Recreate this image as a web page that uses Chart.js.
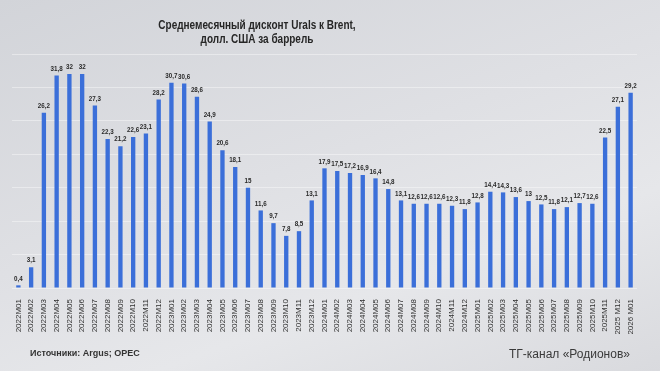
<!DOCTYPE html>
<html>
<head>
<meta charset="utf-8">
<script src="https://cdn.jsdelivr.net/npm/chart.js@4"></script>
<style>
  body { margin: 0; }
  #wrap {
    position: relative; width: 660px; height: 371px; overflow: hidden;
    background: linear-gradient(160deg, #d2d4d9 0%, #dfe0e4 45%, #e6e7ea 70%, #d9dade 100%);
    font-family: 'Liberation Sans', Arial, sans-serif;
  }
  #title {
    position: absolute; left: 57px; top: 18px; width: 400px; white-space: nowrap;
    text-align: center; font-weight: bold; font-size: 13.5px; line-height: 14px; color: #262626;
    transform: scaleX(0.74); transform-origin: 50% 0;
  }
  #src { position: absolute; left: 30px; top: 348px; font-weight: bold; font-size: 9px; color: #333; }
  #tg { position: absolute; left: 509px; top: 347px; font-size: 12px; color: #3a3a3a; }
  canvas { position: absolute; left: 0; top: 0; }
</style>
</head>
<body>
<div id="wrap">
  <canvas id="myChart" width="660" height="371"></canvas>
  <div id="title">Среднемесячный дисконт Urals к Brent,<br>долл. США за баррель</div>
  <div id="src">Источники: Argus; OPEC</div>
  <div id="tg">ТГ-канал «Родионов»</div>
</div>
<script>
// months 2022M01 .. 2026M01
const months = [
  '2022M01','2022M02','2022M03','2022M04','2022M05','2022M06','2022M07','2022M08','2022M09','2022M10','2022M11','2022M12',
  '2023M01','2023M02','2023M03','2023M04','2023M05','2023M06','2023M07','2023M08','2023M09','2023M10','2023M11','2023M12',
  '2024M01','2024M02','2024M03','2024M04','2024M05','2024M06','2024M07','2024M08','2024M09','2024M10','2024M11','2024M12',
  '2025M01','2025M02','2025M03','2025M04','2025M05','2025M06','2025M07','2025M08','2025M09','2025M10','2025M11','2025 M12',
  '2026 M01'
];
const discount2022 = [0.4, 3.1, 26.2, 31.8, 32, 32, 27.3, 22.3, 21.2, 22.6, 23.1, 28.2];
const discount2023 = [30.7, 30.6, 28.6, 24.9, 20.6, 18.1, 15, 11.6, 9.7, 7.8, 8.5, 13.1];
const discount2024 = [17.9, 17.5, 17.2, 16.9, 16.4, 14.8, 13.1, 12.6, 12.6, 12.6, 12.3, 11.8];
const discount2025 = [12.8, 14.4, 14.3, 13.6, 13, 12.5, 11.8, 12.1, 12.7, 12.6, 22.5, 27.1];
const discount2026 = [29.2];
const yTicks = [0, 5, 10, 15, 20, 25, 30, 35];

const values = [].concat(discount2022, discount2023, discount2024, discount2025, discount2026);

// value labels above each bar (squeezed like a narrow font)
const valueLabels = {
  id: 'valueLabels',
  afterDatasetsDraw(chart) {
    const ctx = chart.ctx;
    const meta = chart.getDatasetMeta(0);
    const sx = 0.78;
    ctx.save();
    ctx.font = 'bold 8px "Liberation Sans", Arial';
    ctx.fillStyle = '#2a2a2a';
    ctx.textAlign = 'center';
    ctx.textBaseline = 'bottom';
    meta.data.forEach((bar, i) => {
      ctx.save();
      ctx.translate(bar.x, bar.y - 3);
      ctx.scale(sx, 1);
      ctx.fillText(String(values[i]).replace('.', ','), 0, 0);
      ctx.restore();
    });
    ctx.restore();
  }
};

const config = {
  type: 'bar',
  data: {
    labels: months,
    datasets: [{
      data: values,
      backgroundColor: '#3b6fd9',
      barPercentage: 0.34,
      categoryPercentage: 1.0
    }]
  },
  options: {
    responsive: false,
    animation: false,
    layout: { padding: { left: 12, right: 23, top: 54, bottom: 33 } },
    plugins: {
      legend: { display: false },
      title: { display: false },
      tooltip: { enabled: false }
    },
    scales: {
      x: {
        grid: { display: false },
        border: { display: false },
        ticks: {
          minRotation: 90, maxRotation: 90, autoSkip: false, padding: 3,
          color: '#2f2f2f',
          font: { family: '"Liberation Sans", Arial', size: 8 }
        },
        afterFit: (axis) => { axis.height = 50; }
      },
      y: {
        min: 0, max: 35,
        afterBuildTicks: (axis) => { axis.ticks = yTicks.map(v => ({ value: v })); },
        ticks: { display: false },
        border: { display: false },
        grid: { color: 'rgba(255,255,255,0.4)', lineWidth: 1, drawTicks: false }
      }
    }
  },
  plugins: [valueLabels]
};

const myChart = new Chart(document.getElementById('myChart'), config);
</script>
</body>
</html>
